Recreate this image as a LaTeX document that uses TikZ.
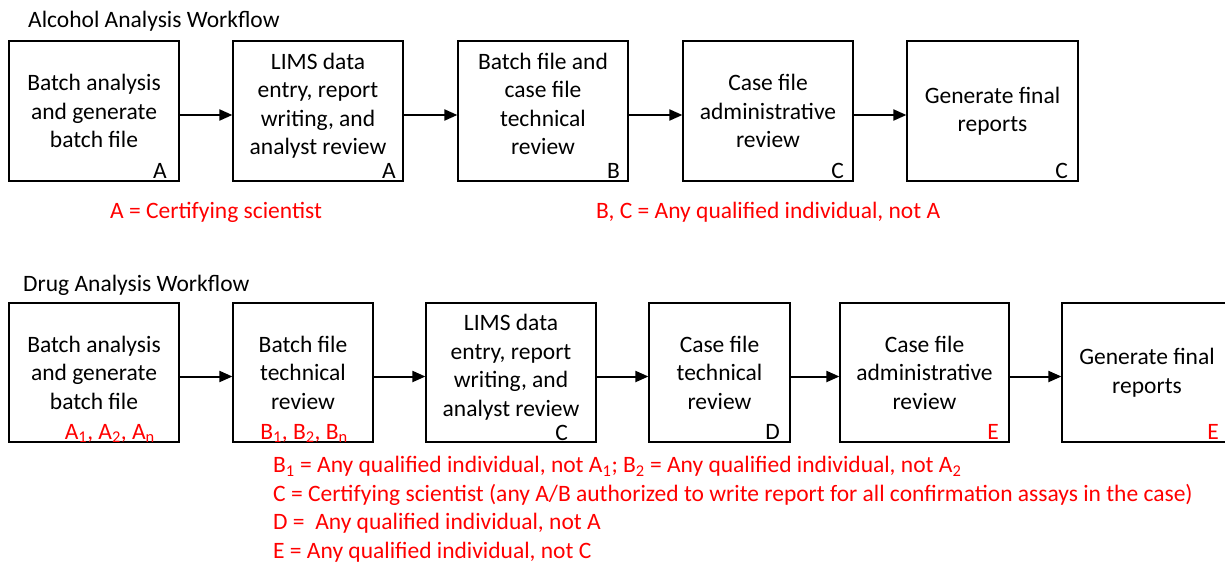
\documentclass[tikz,border=0pt]{standalone}
\usepackage{fontspec}
\setmainfont{Carlito}
\usetikzlibrary{positioning, arrows.meta}

\tikzset{
	stage/.style = {draw, line width=1.2pt, minimum height=140pt, minimum width=170pt,
		inner sep=0pt, align=center, font=\fontsize{23.5}{28.5}\selectfont},
	fourline/.style = {text depth=14pt},
	who/.style = {font=\fontsize{23.5}{28}\selectfont, inner sep=0pt, anchor=base east},
	key/.style = {text=red, font=\fontsize{23.5}{28.5}\selectfont, inner sep=0pt, align=left},
	flow/.style = {line width=2pt, -{Triangle[length=13pt, width=11pt]}}
}

\begin{document}
\begin{tikzpicture}[x=1pt, y=-1pt]
	\useasboundingbox (0,0) rectangle (1225,567);
	\clip (0,0) rectangle (1225,567);
	\fill[white] (0,0) rectangle (1225,567);

	% alcohol workflow
	\node[anchor=west, font=\fontsize{23.5}{28}\selectfont, inner sep=0pt] (alctitle) at (28,21) {Alcohol Analysis Workflow};
	\node[stage] (a1) at (94,111) {Batch analysis\\and generate\\batch file};
	\node[stage, fourline] (a2) at (318,111) {LIMS data\\entry, report\\writing, and\\analyst review};
	\node[stage, fourline] (a3) at (543,111) {Batch file and\\case file\\technical\\review};
	\node[stage] (a4) at (768,111) {Case file\\administrative\\review};
	\node[stage, minimum width=171pt] (a5) at (992.5,111) {Generate final\\reports};

	\node[who] (wa1) at (167,178) {A};
	\node[who] (wa2) at (396,178) {A};
	\node[who] (wa3) at (620,178) {B};
	\node[who] (wa4) at (844,178) {C};
	\node[who] (wa5) at (1068,178) {C};

	\foreach \from/\to in {a1/a2, a2/a3, a3/a4, a4/a5}
		\draw[flow] ([yshift=-4pt]\from.east) -- ([yshift=-4pt]\to.west);

	\node[key, anchor=west] (keyA) at (110,212) {A = Certifying scientist};
	\node[key, anchor=west] (keyBC) at (596,212) {B, C = Any qualified individual, not A};

	% drug workflow
	\node[anchor=west, font=\fontsize{23.5}{28}\selectfont, inner sep=0pt] (drugtitle) at (23,285) {Drug Analysis Workflow};
	\node[stage, minimum height=139pt] (d1) at (94,372.5) {Batch analysis\\and generate\\batch file};
	\node[stage, minimum height=139pt, minimum width=140pt] (d2) at (303,372.5) {Batch file\\technical\\review};
	\node[stage, fourline, minimum height=139pt] (d3) at (511,372.5) {LIMS data\\entry, report\\writing, and\\analyst review};
	\node[stage, minimum height=139pt, minimum width=141pt] (d4) at (719.5,372.5) {Case file\\technical\\review};
	\node[stage, minimum height=139pt, minimum width=169pt] (d5) at (924.5,372.5) {Case file\\administrative\\review};
	\node[stage, minimum height=139pt] (d6) at (1147,372.5) {Generate final\\reports};

	\node[who, text=red] (wd1) at (155,439) {A\textsubscript{1}, A\textsubscript{2}, A\textsubscript{n}};
	\node[who, text=red] (wd2) at (348,439) {B\textsubscript{1}, B\textsubscript{2}, B\textsubscript{n}};
	\node[who] (wd3) at (568,440) {C};
	\node[who] (wd4) at (780,439) {D};
	\node[who, text=red] (wd5) at (999,439) {E};
	\node[who, text=red] (wd6) at (1219,439) {E};

	\foreach \from/\to in {d1/d2, d2/d3, d3/d4, d4/d5, d5/d6}
		\draw[flow] ([yshift=-4pt]\from.east) -- ([yshift=-4pt]\to.west);

	\node[key, anchor=north west] (keyD) at (273,456) {B\textsubscript{1} = Any qualified individual, not A\textsubscript{1}; B\textsubscript{2} = Any qualified individual, not A\textsubscript{2}\\
		C = Certifying scientist (any A/B authorized to write report for all confirmation assays in the case)\\
		D =\ \ Any qualified individual, not A\\
		E = Any qualified individual, not C};
\end{tikzpicture}
\end{document}
